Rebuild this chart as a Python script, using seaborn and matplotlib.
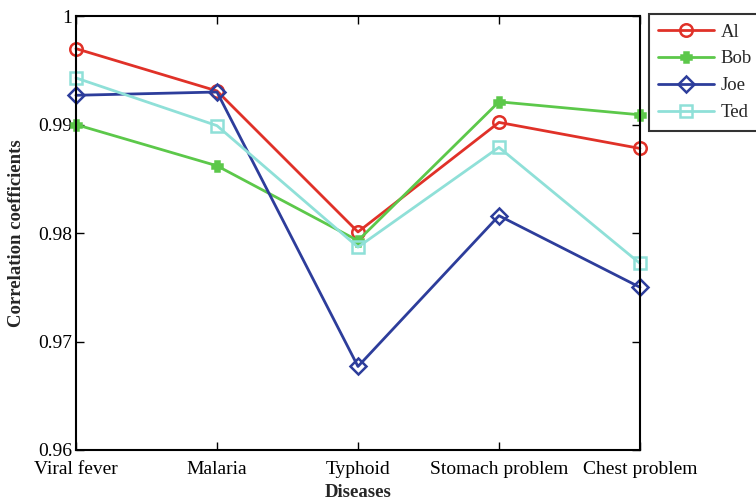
import seaborn as sns
import matplotlib.pyplot as plt
import pandas as pd

diseases = ["Viral fever", "Malaria", "Typhoid", "Stomach problem", "Chest problem"]
al = [0.9970, 0.9931, 0.9801, 0.9902, 0.9878]
bob = [0.9900, 0.9862, 0.9793, 0.9921, 0.9909]
joe = [0.9927, 0.9930, 0.9677, 0.9816, 0.9750]
ted = [0.9943, 0.9899, 0.9787, 0.9879, 0.9772]

names = ["Al", "Bob", "Joe", "Ted"]
colors = {"Al": "#e03128", "Bob": "#5cc84a", "Joe": "#2d3d9b", "Ted": "#8fe0d8"}
markers = {"Al": "o", "Bob": "P", "Joe": "D", "Ted": "s"}
msize = {"Al": 9, "Bob": 7, "Joe": 8, "Ted": 8.5}

rows = []
for name, vals in zip(names, [al, bob, joe, ted]):
    for i, v in enumerate(vals):
        rows.append({"pos": i, "value": v, "person": name})
df = pd.DataFrame(rows)

sns.set_style("ticks")
plt.rcParams["font.family"] = ["Liberation Serif", "DejaVu Serif"]

fig = plt.figure(figsize=(7.56, 5.03), dpi=100)
ax = fig.add_axes([0.1005, 0.1054, 0.746, 0.8626])

sns.lineplot(data=df, x="pos", y="value", hue="person", style="person",
             hue_order=names, style_order=names,
             palette=colors, markers=markers, dashes=False, linewidth=2,
             ax=ax, legend=False)

# MATLAB-like markers: open symbols, Bob filled
for line, name in zip(ax.lines, names):
    c = colors[name]
    line.set_markeredgecolor(c)
    line.set_markerfacecolor(c if name == "Bob" else "none")
    line.set_markersize(msize[name])
    line.set_markeredgewidth(1.8)
    line.set_clip_on(False)

ax.set_xlim(0, 4)
ax.set_ylim(0.96, 1.0)
ax.set_xticks(range(len(diseases)))
ax.set_xticklabels(diseases)
ax.set_yticks([0.96, 0.97, 0.98, 0.99, 1.0])
ax.set_yticklabels(["0.96", "0.97", "0.98", "0.99", "1"])
ax.tick_params(direction="in", top=True, right=True, length=6, width=1,
               labelsize=14, colors="black")
ax.tick_params(axis="x", pad=8)
ax.tick_params(axis="y", pad=3)
for s in ax.spines.values():
    s.set_linewidth(1.5)
    s.set_color("black")

ax.set_xlabel("Diseases", fontsize=13.5, fontweight="bold", labelpad=4)
ax.set_ylabel("Correlation coefficients", fontsize=13.5, fontweight="bold", labelpad=9)

handles = []
for name in names:
    h, = ax.plot([], [], color=colors[name], marker=markers[name], lw=2,
                 markersize=msize[name],
                 markerfacecolor=colors[name] if name == "Bob" else "none",
                 markeredgewidth=1.8)
    handles.append(h)
leg = fig.legend(handles, names, loc="upper left", bbox_to_anchor=(0.858, 0.972),
                 fontsize=13.5, frameon=True, fancybox=False, edgecolor="black",
                 handlelength=3.0, handletextpad=0.35, borderpad=0.5,
                 labelspacing=0.52, borderaxespad=0)
leg.get_frame().set_linewidth(1.5)

fig.savefig("out.png", dpi=100)
